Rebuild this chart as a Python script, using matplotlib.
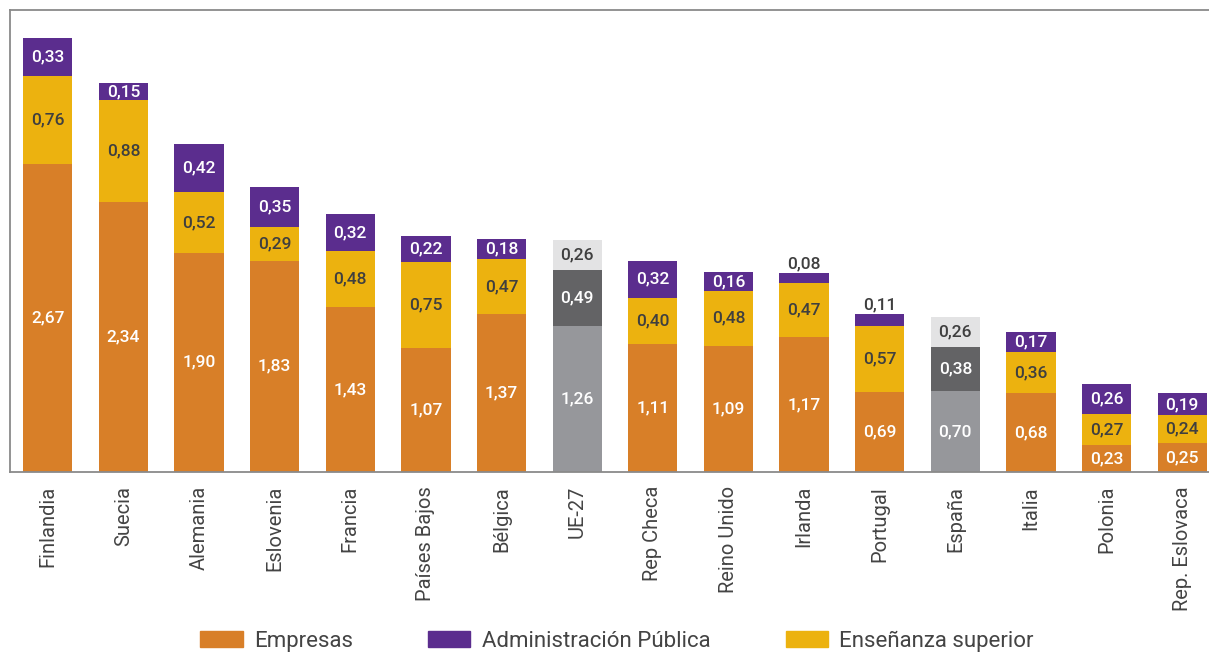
import matplotlib
matplotlib.use("Agg")
import matplotlib.pyplot as plt
import numpy as np
from matplotlib.patches import Patch

plt.rcParams['font.family'] = ['Roboto', 'DejaVu Sans']

categories = ["Finlandia", "Suecia", "Alemania", "Eslovenia", "Francia", "Países Bajos",
              "Bélgica", "UE-27", "Rep Checa", "Reino Unido", "Irlanda", "Portugal",
              "España", "Italia", "Polonia", "Rep. Eslovaca"]
empresas = [2.67, 2.34, 1.90, 1.83, 1.43, 1.07, 1.37, 1.26, 1.11, 1.09, 1.17, 0.69, 0.70, 0.68, 0.23, 0.25]
ensenanza = [0.76, 0.88, 0.52, 0.29, 0.48, 0.75, 0.47, 0.49, 0.40, 0.48, 0.47, 0.57, 0.38, 0.36, 0.27, 0.24]
administracion = [0.33, 0.15, 0.42, 0.35, 0.32, 0.22, 0.18, 0.26, 0.32, 0.16, 0.08, 0.11, 0.26, 0.17, 0.26, 0.19]
highlight = ["UE-27", "España"]

C_EMP = "#D87F28"
C_ENS = "#ECB20F"
C_ADM = "#5B2D8E"
G_BOT = "#96979B"
G_MID = "#636365"
G_TOP = "#E3E3E4"
DARK = "#3F3F3F"

fig = plt.figure(figsize=(12.09, 6.52), dpi=100)
ax = fig.add_axes([10/1209, 1 - 472/652, 1210/1209, 462/652])

x = np.arange(len(categories))
emp = np.array(empresas)
ens = np.array(ensenanza)
adm = np.array(administracion)
is_hl = np.array([c in highlight for c in categories])

c1 = [G_BOT if h else C_EMP for h in is_hl]
c2 = [G_MID if h else C_ENS for h in is_hl]
c3 = [G_TOP if h else C_ADM for h in is_hl]
w = 0.65
ax.bar(x, emp, w, color=c1)
ax.bar(x, ens, w, bottom=emp, color=c2)
ax.bar(x, adm, w, bottom=emp + ens, color=c3)

def fmt(v):
    return f"{v:.2f}".replace(".", ",")

fs = 12.5
fw = "medium"
for i in range(len(x)):
    ax.text(x[i], emp[i] / 2, fmt(emp[i]), ha="center", va="center", color="white",
            fontsize=fs, fontweight=fw)
    ax.text(x[i], emp[i] + ens[i] / 2, fmt(ens[i]), ha="center", va="center",
            color="white" if is_hl[i] else DARK, fontsize=fs, fontweight=fw)
    top = emp[i] + ens[i]
    if adm[i] < 0.13:
        ax.text(x[i], top + adm[i] + 0.015, fmt(adm[i]), ha="center", va="bottom", color=DARK,
                fontsize=fs, fontweight=fw)
    else:
        ax.text(x[i], top + adm[i] / 2, fmt(adm[i]), ha="center", va="center",
                color=DARK if is_hl[i] else "white", fontsize=fs, fontweight=fw)

ax.set_xlim(-0.5, 15.5)
ax.set_ylim(0, 4.0)
ax.set_yticks([])
ax.set_xticks(x)
ax.set_xticklabels(categories, rotation=90, fontsize=14.5, color="#444444")
ax.tick_params(axis="x", length=0, pad=10)
for s in ax.spines.values():
    s.set_color("#8A8A8A")
    s.set_linewidth(1.3)

labels = ["Empresas", "Administración Pública", "Enseñanza superior"]
hs = [Patch(color=C_EMP), Patch(color=C_ADM), Patch(color=C_ENS)]
leg = fig.legend(hs, labels, loc="lower center", bbox_to_anchor=(617/1209, -0.03), ncol=3,
                 frameon=False, fontsize=16, handlelength=1.9, handleheight=0.75,
                 handletextpad=0.5, columnspacing=3.4)
for t in leg.get_texts():
    t.set_color("#444444")

fig.savefig("out.png", dpi=100)
